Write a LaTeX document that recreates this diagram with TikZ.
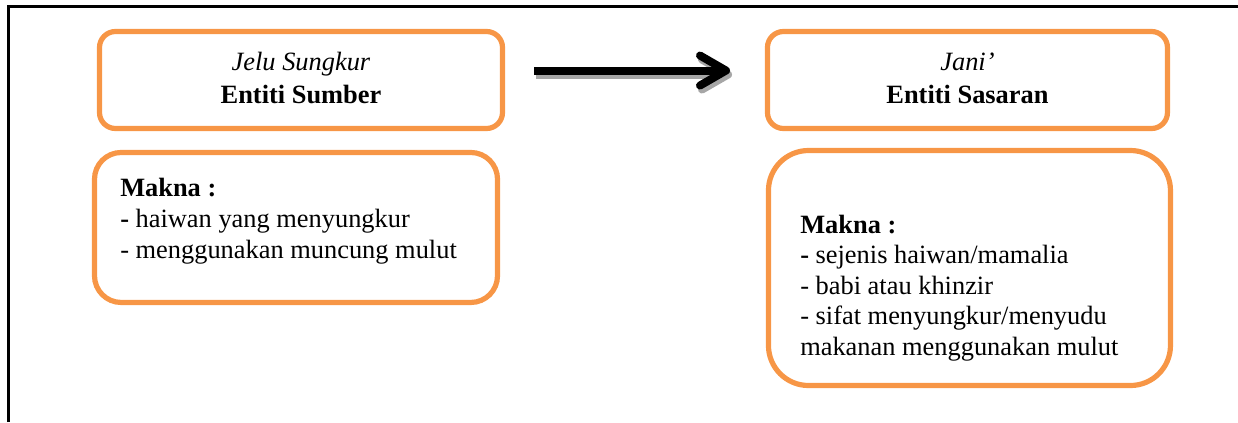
\documentclass[tikz,border=0pt]{standalone}
\usepackage{fontspec}
\setmainfont{Liberation Serif}
\usetikzlibrary{arrows.meta}
\definecolor{boxorange}{HTML}{F79646}
\definecolor{shadowgray}{HTML}{A6A6A6}
\begin{document}
\begin{tikzpicture}[
  x=1pt,y=1pt,
  every node/.style={font=\fontsize{19.8pt}{22.9pt}\selectfont},
  orangebox/.style={draw=boxorange, line width=3.9pt, rounded corners=#1, inner sep=0pt},
  txt/.style={anchor=base west, align=left, inner sep=0pt},
  bigarrow/.style={line width=6pt, -{Straight Barb[length=19.5pt,width=22.5pt,round]}},
  frameline/.style={line width=1.9pt, black}
]
\useasboundingbox (0,0) rectangle (928.5,-316.5);
% frame
\draw[frameline] (6.4,-316.5) -- (6.4,-4.7) -- (928.5,-4.7);
% top boxes
\node[orangebox=12pt, minimum width=302.25pt, minimum height=72.75pt, align=center]
  (src) at (225.75,-60) {\textit{Jelu Sungkur}\\[1.5pt]\textbf{Entiti Sumber}\rule[-3pt]{0pt}{3pt}};
\node[orangebox=12pt, minimum width=300pt, minimum height=72.75pt, align=center]
  (tgt) at (725.6,-60) {\textit{Jani’}\\[1.5pt]\textbf{Entiti Sasaran}\rule[-3pt]{0pt}{3pt}};
% meaning boxes
\node[orangebox=20pt, minimum width=302.25pt, minimum height=112.5pt] (msrc) at (222,-170.6) {};
\node[orangebox=30pt, minimum width=301.5pt, minimum height=176.25pt] (mtgt) at (727.1,-201) {};
\node[txt] (msrctext) at (90,-193.5)
  {\textbf{Makna :}\\\textbf{-} haiwan yang menyungkur\\- menggunakan muncung mulut};
\node[txt] (mtgttext) at (600,-266.5)
  {\textbf{Makna :}\\\textbf{-} sejenis haiwan/mamalia\\- babi atau khinzir\\- sifat menyungkur/menyudu\\makanan menggunakan mulut};
% arrow with shadow
\coordinate (a1) at (400.5,-52.9);
\coordinate (a2) at (547.5,-52.9);
\draw[bigarrow, shadowgray, transform canvas={shift={(1.5pt,-3pt)}}] (a1) -- (a2);
\draw[bigarrow, black] (a1) -- (a2);
\end{tikzpicture}
\end{document}
